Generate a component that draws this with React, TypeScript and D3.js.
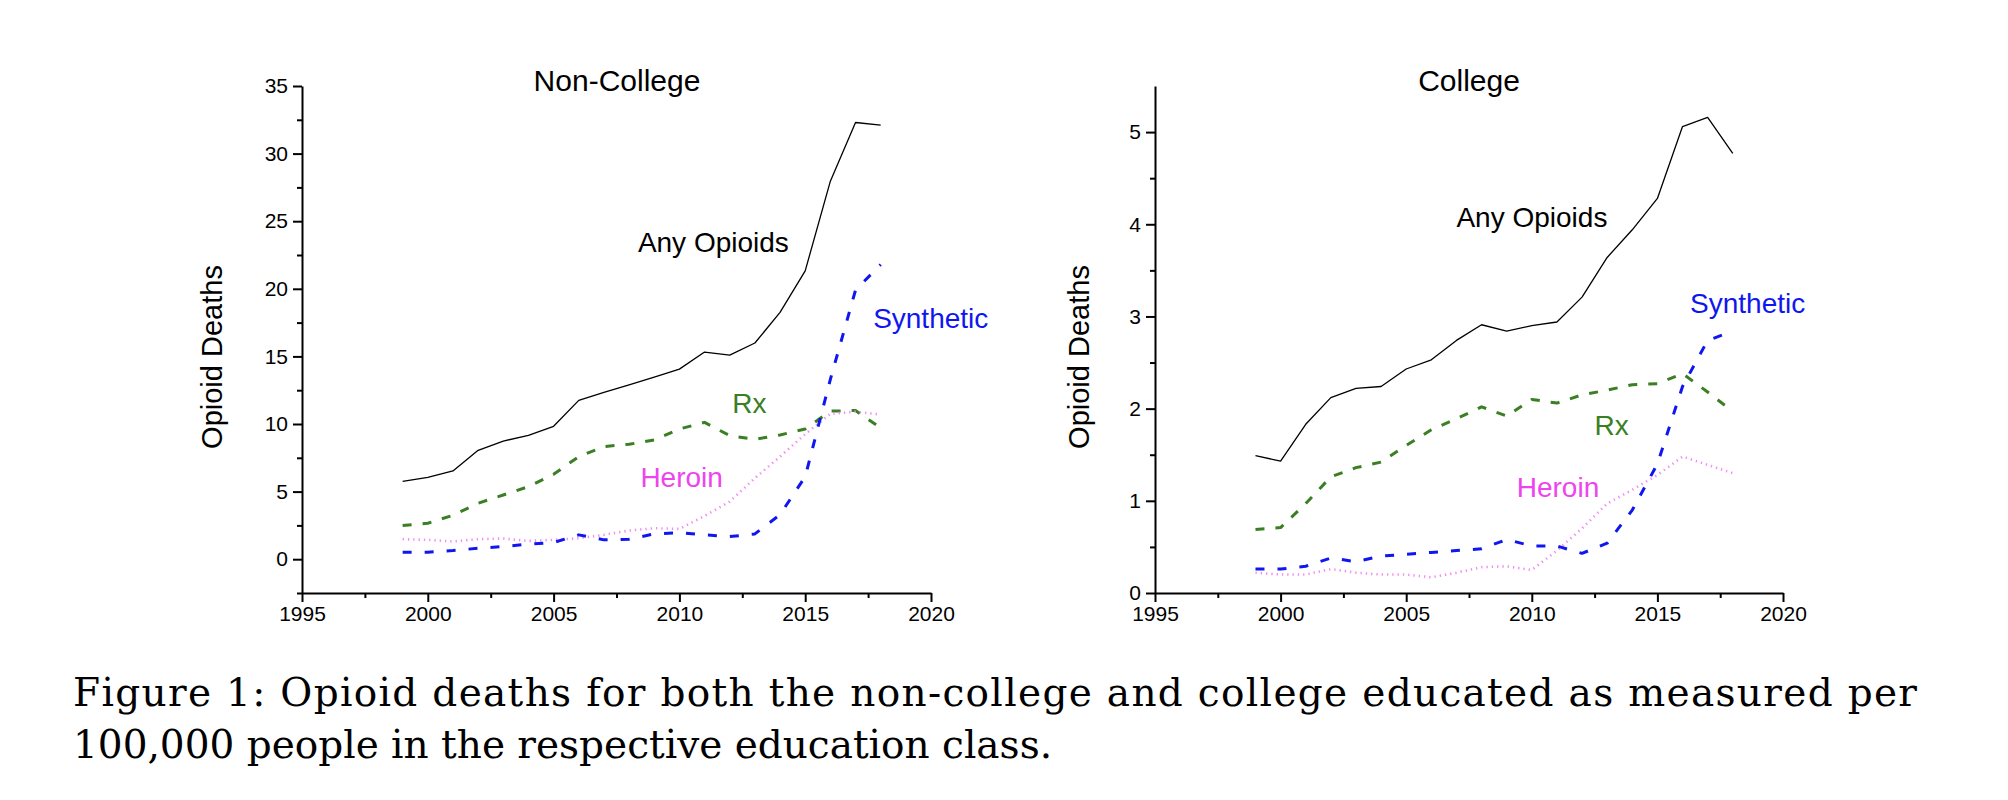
import { useEffect, useRef } from "react";
import * as d3 from "d3";

// years on the x axis
const years = [1999, 2000, 2001, 2002, 2003, 2004, 2005, 2006, 2007, 2008, 2009, 2010, 2011, 2012, 2013, 2014, 2015, 2016, 2017, 2018];

// non-college, deaths per 100,000
const ncAny = [5.76, 6.06, 6.53, 8.05, 8.74, 9.16, 9.83, 11.75, 12.34, 12.9, 13.47, 14.06, 15.32, 15.1, 15.99, 18.25, 21.33, 27.96, 32.3, 32.1];
const ncRx = [2.49, 2.66, 3.25, 4.14, 4.75, 5.37, 6.28, 7.59, 8.33, 8.5, 8.82, 9.63, 10.12, 9.14, 8.87, 9.19, 9.63, 10.95, 11.0, 9.7];
const ncHeroin = [1.48, 1.43, 1.31, 1.48, 1.53, 1.35, 1.43, 1.55, 1.8, 2.12, 2.29, 2.24, 3.2, 4.26, 5.99, 7.59, 9.25, 10.75, 10.91, 10.7];
const ncSynthetic = [0.52, 0.52, 0.64, 0.81, 0.94, 1.11, 1.23, 1.8, 1.43, 1.48, 1.87, 1.97, 1.8, 1.67, 1.87, 3.3, 6.1, 13.3, 19.9, 21.8];

// college, deaths per 100,000
const cAny = [1.49, 1.43, 1.83, 2.12, 2.22, 2.24, 2.43, 2.53, 2.74, 2.91, 2.84, 2.9, 2.94, 3.21, 3.64, 3.94, 4.28, 5.06, 5.16, 4.77];
const cRx = [0.69, 0.71, 0.97, 1.26, 1.36, 1.42, 1.6, 1.77, 1.89, 2.02, 1.92, 2.1, 2.06, 2.15, 2.2, 2.26, 2.27, 2.38, 2.18, 1.97];
const cHeroin = [0.22, 0.2, 0.2, 0.26, 0.22, 0.2, 0.2, 0.17, 0.22, 0.28, 0.29, 0.25, 0.46, 0.7, 0.97, 1.12, 1.28, 1.48, 1.39, 1.3];
const cSynthetic = [0.26, 0.26, 0.29, 0.38, 0.34, 0.4, 0.42, 0.44, 0.46, 0.48, 0.58, 0.51, 0.51, 0.43, 0.54, 0.9, 1.4, 2.24, 2.74, 2.84];

// tick values
const xMajor = [1995, 2000, 2005, 2010, 2015, 2020];
const xMinor = [1997.5, 2002.5, 2007.5, 2012.5, 2017.5];
const ncYMajor = [0, 5, 10, 15, 20, 25, 30, 35];
const ncYMinor = [-2.5, 2.5, 7.5, 12.5, 17.5, 22.5, 27.5, 32.5];
const cYMajor = [0, 1, 2, 3, 4, 5];
const cYMinor = [0.5, 1.5, 2.5, 3.5, 4.5];

const FONT = "'Liberation Sans', Arial, Helvetica, sans-serif";

const styles: Record<string, any> = {
  any: { color: "#000", width: 1.3, dash: null, label: "#000" },
  rx: { color: "#3a7f23", width: 3, dash: "9 11", label: "#3a7f23" },
  heroin: { color: "#ef8cef", width: 2.6, dash: "1.3 4", label: "#ee44ee" },
  synthetic: { color: "#1016ef", width: 3, dash: "9 13", label: "#1016ef" },
};

const panels = [
  {
    title: "Non-College",
    left: 302,
    right: 931,
    yDomain: [-2.5, 35],
    yMajor: ncYMajor,
    yMinor: ncYMinor,
    titleX: 617,
    ylabelX: 222,
    series: [
      { key: "any", values: ncAny, name: "Any Opioids", lx: 2008.35, ly: 22.75 },
      { key: "rx", values: ncRx, name: "Rx", lx: 2012.1, ly: 10.83 },
      { key: "heroin", values: ncHeroin, name: "Heroin", lx: 2008.45, ly: 5.35 },
      { key: "synthetic", values: ncSynthetic, name: "Synthetic", lx: 2017.7, ly: 17.1 },
    ],
  },
  {
    title: "College",
    left: 1155,
    right: 1783,
    yDomain: [0, 5.5],
    yMajor: cYMajor,
    yMinor: cYMinor,
    titleX: 1469,
    ylabelX: 1089,
    series: [
      { key: "any", values: cAny, name: "Any Opioids", lx: 2007.0, ly: 3.97 },
      { key: "rx", values: cRx, name: "Rx", lx: 2012.5, ly: 1.71 },
      { key: "heroin", values: cHeroin, name: "Heroin", lx: 2009.4, ly: 1.04 },
      { key: "synthetic", values: cSynthetic, name: "Synthetic", lx: 2016.3, ly: 3.04 },
    ],
  },
];

const TOP = 86;
const BOTTOM = 593;

function Panel({ cfg }: { cfg: any }) {
  const gRef = useRef(null);

  useEffect(() => {
    const g = d3.select(gRef.current);
    g.selectAll("*").remove();

    const x = d3.scaleLinear().domain([1995, 2020]).range([cfg.left, cfg.right]);
    const y = d3.scaleLinear().domain(cfg.yDomain).range([BOTTOM, TOP]);

    // axes
    const xAxis = g.append("g")
      .attr("transform", `translate(0,${BOTTOM})`)
      .call(d3.axisBottom(x).tickValues(xMajor).tickFormat(d3.format("d")).tickSize(9).tickSizeOuter(0).tickPadding(4));
    g.append("g")
      .attr("transform", `translate(0,${BOTTOM})`)
      .call(d3.axisBottom(x).tickValues(xMinor).tickFormat(() => "").tickSize(5).tickSizeOuter(0))
      .select(".domain").remove();

    const yAxis = g.append("g")
      .attr("transform", `translate(${cfg.left},0)`)
      .call(d3.axisLeft(y).tickValues(cfg.yMajor).tickFormat(d3.format("d")).tickSize(9).tickSizeOuter(0).tickPadding(5));
    g.append("g")
      .attr("transform", `translate(${cfg.left},0)`)
      .call(d3.axisLeft(y).tickValues(cfg.yMinor).tickFormat(() => "").tickSize(5).tickSizeOuter(0))
      .select(".domain").remove();

    g.selectAll(".domain").attr("stroke-width", 2).attr("stroke", "#000");
    g.selectAll(".tick line").attr("stroke-width", 2).attr("stroke", "#000");
    [xAxis, yAxis].forEach((a) =>
      a.selectAll("text")
        .attr("font-family", FONT)
        .attr("font-size", 21)
        .attr("fill", "#000")
    );

    // lines
    const line = d3.line<number>()
      .x((d, i) => x(years[i]))
      .y((d) => y(d));

    cfg.series.forEach((s: any) => {
      const st = styles[s.key];
      g.append("path")
        .datum(s.values)
        .attr("fill", "none")
        .attr("stroke", st.color)
        .attr("stroke-width", st.width)
        .attr("stroke-dasharray", st.dash)
        .attr("stroke-linejoin", "round")
        .attr("d", line);
    });

    // series labels
    cfg.series.forEach((s: any) => {
      g.append("text")
        .attr("x", x(s.lx))
        .attr("y", y(s.ly))
        .attr("font-family", FONT)
        .attr("font-size", 28)
        .attr("fill", styles[s.key].label)
        .text(s.name);
    });

    // title
    g.append("text")
      .attr("x", cfg.titleX)
      .attr("y", 91)
      .attr("text-anchor", "middle")
      .attr("font-family", FONT)
      .attr("font-size", 30)
      .text(cfg.title);

    // y label
    g.append("text")
      .attr("transform", `translate(${cfg.ylabelX},357) rotate(-90)`)
      .attr("text-anchor", "middle")
      .attr("font-family", FONT)
      .attr("font-size", 29)
      .text("Opioid Deaths");
  }, [cfg]);

  return <g ref={gRef} />;
}

export default function App() {
  return (
    <svg
      width={2008}
      height={800}
      style={{ position: "absolute", left: 0, top: 0, background: "#fff" }}
    >
      <rect width={2008} height={800} fill="#fff" />
      {panels.map((p) => (
        <Panel key={p.title} cfg={p} />
      ))}
      <text
        x={73}
        y={706}
        fontFamily="'DejaVu Serif', serif"
        fontSize={39}
        textLength={1844}
        lengthAdjust="spacing"
      >
        Figure 1:  Opioid deaths for both the non-college and college educated as measured per
      </text>
      <text x={73} y={758} fontFamily="'DejaVu Serif', serif" fontSize={39}>
        100,000 people in the respective education class.
      </text>
    </svg>
  );
}
